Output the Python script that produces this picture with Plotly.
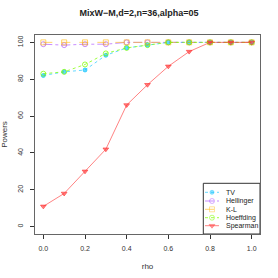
import plotly.graph_objects as go

rho = [0.0, 0.1, 0.2, 0.3, 0.4, 0.5, 0.6, 0.7, 0.8, 0.9, 1.0]
tv = [82, 84, 85, 93, 97, 98.5, 100, 100, 100, 100, 100]
hellinger = [99, 98.5, 99, 99, 100, 100, 100, 100, 100, 100, 100]
kl = [100, 100, 100, 100, 100, 100, 100, 100, 100, 100, 100]
hoeffding = [83, 84, 88, 94, 97, 98.5, 100, 100, 100, 100, 100]
spearman = [11, 18, 30, 42, 66, 77, 87, 95, 100, 100, 100]
names = ["TV", "Hellinger", "K-L", "Hoeffding", "Spearman"]

colors = ["rgba(0,191,255,0.6)", "rgba(155,48,255,0.55)", "rgba(255,185,15,0.6)",
          "rgba(127,255,0,0.75)", "rgba(255,48,48,0.6)"]
dashes = ["dot", "dashdot", "dash", "dot", "solid"]
symbols = ["circle", "circle-open", "square-open", "circle-open", "triangle-down"]
msizes = [4, 5, 5, 5, 5]
values = [tv, hellinger, kl, hoeffding, spearman]

fig = go.Figure()
for name, vals, col, dash, sym, ms in zip(names, values, colors, dashes, symbols, msizes):
    fig.add_trace(go.Scatter(
        x=rho, y=vals, name=name, mode="lines+markers", showlegend=False,
        line=dict(color=col, width=1, dash=dash),
        marker=dict(color=col, size=ms, symbol=sym, line=dict(color=col, width=1)),
    ))

# custom compact legend (R style) drawn on an overlay axis in plot-area fractions
L, T, W, H = 35, 35, 225, 199
def px(x):
    return (x - L) / W
def py(y):
    return (T + H - y) / H

leg_y = [192.3, 201, 209.3, 217.7, 225.7]
for i, (name, col, dash, sym, ms) in enumerate(zip(names, colors, dashes, symbols, msizes)):
    yy = py(leg_y[i])
    fig.add_trace(go.Scatter(
        x=[px(205), px(212), px(219)], y=[yy, yy, yy], mode="lines+markers",
        xaxis="x2", yaxis="y2", showlegend=False, hoverinfo="skip",
        line=dict(color=col, width=1, dash=dash),
        marker=dict(color=col, size=[0, ms, 0], symbol=sym, line=dict(color=col, width=1)),
    ))
    fig.add_annotation(x=px(224), y=yy, xref="x2", yref="y2", text=name,
                       showarrow=False, xanchor="left", yanchor="middle",
                       font=dict(size=7, color="#222"))

fig.add_shape(type="rect", xref="x2", yref="y2", x0=px(203.3), x1=1.0, y0=0.0, y1=py(183.3),
              line=dict(color="#333", width=1), fillcolor="rgba(0,0,0,0)", layer="above")

font = "Liberation Sans, Arial, sans-serif"
fig.update_layout(
    width=278, height=278,
    margin=dict(l=L, r=278 - L - W, t=T, b=278 - T - H),
    paper_bgcolor="white", plot_bgcolor="white",
    font=dict(family=font, size=7, color="#333"),
    title=dict(text="<b>MixW\u2212M,d=2,n=36,alpha=05</b>", x=0.5, xanchor="center",
               y=0.955, yanchor="middle", font=dict(size=9, color="#222")),
    showlegend=False,
    xaxis=dict(range=[-0.04, 1.04], tickvals=[0, 0.2, 0.4, 0.6, 0.8, 1.0],
               ticktext=["0.0", "0.2", "0.4", "0.6", "0.8", "1.0"],
               ticks="outside", ticklen=4, tickcolor="#333", ticklabelstandoff=4,
               showgrid=False, zeroline=False, showline=True, linecolor="#666",
               mirror=True, automargin=False, title=dict(text="rho", standoff=11)),
    yaxis=dict(range=[-4, 104], tickvals=[0, 20, 40, 60, 80, 100],
               ticks="outside", ticklen=4, tickcolor="#333", tickangle=-90,
               ticklabelstandoff=4, automargin=False,
               showgrid=False, zeroline=False, showline=True, linecolor="#666",
               mirror=True, title=dict(text="Powers", standoff=9)),
    xaxis2=dict(overlaying="x", range=[0, 1], visible=False, fixedrange=True),
    yaxis2=dict(overlaying="y", range=[0, 1], visible=False, fixedrange=True),
)
fig.write_html("out.html", config={"displayModeBar": False},
               post_script="document.body.style.margin='0';")
